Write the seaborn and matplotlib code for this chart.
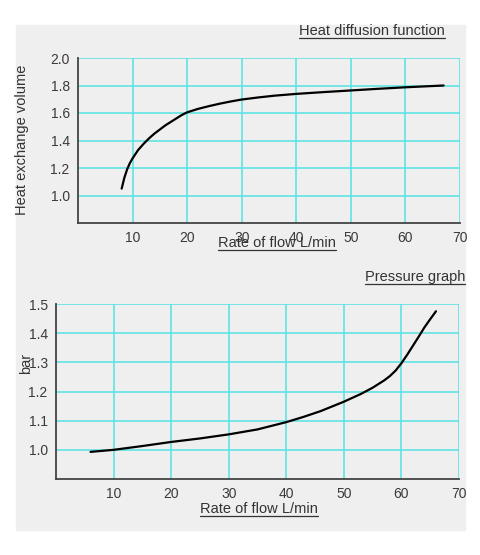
import matplotlib
matplotlib.use("Agg")
import matplotlib.pyplot as plt
import seaborn as sns
from matplotlib.patches import Rectangle
from matplotlib.lines import Line2D

# heat diffusion curve
heat_flow = [8, 8.5, 9, 9.5, 10, 11, 12, 13, 14, 15, 16, 17, 18, 19, 20, 22, 24, 26, 28, 30,
             33, 36, 40, 45, 50, 55, 60, 67]
heat_volume = [1.05, 1.13, 1.19, 1.235, 1.27, 1.33, 1.375, 1.415, 1.45, 1.48, 1.51, 1.535,
               1.56, 1.585, 1.605, 1.63, 1.65, 1.668, 1.684, 1.698, 1.713, 1.726, 1.739,
               1.752, 1.764, 1.776, 1.787, 1.80]

# pressure curve
press_flow = [6, 10, 15, 20, 25, 30, 35, 40, 43, 46, 50, 53, 55, 57, 58, 59, 60, 61, 62, 63, 64, 65, 66]
press_bar = [0.993, 1.0, 1.013, 1.027, 1.039, 1.053, 1.07, 1.095, 1.113, 1.133, 1.165, 1.192,
             1.213, 1.238, 1.253, 1.272, 1.297, 1.326, 1.357, 1.388, 1.42, 1.448, 1.475]

x_ticks = [10, 20, 30, 40, 50, 60, 70]
heat_yticks = [1.0, 1.2, 1.4, 1.6, 1.8, 2.0]
press_yticks = [1.0, 1.1, 1.2, 1.3, 1.4, 1.5]

sns.set_style("white")
plt.rcParams['font.family'] = ['Liberation Sans', 'DejaVu Sans']

grid_c = '#55e3e3'
axis_c = '#444444'
text_c = '#3a3a3a'

fig = plt.figure(figsize=(4.8, 5.55), dpi=100)
fig.patch.set_facecolor('white')
fig.patches.append(Rectangle((16/480, 1-530/555), 449/480, 505/555,
                             transform=fig.transFigure, color='#efefef', zorder=-5))

def setup(ax, yticks, ylim):
    ax.set_facecolor('none')
    ax.set_xlim(0, 70)
    ax.set_ylim(*ylim)
    ax.set_xticks(x_ticks)
    ax.set_yticks(yticks)
    ax.set_yticklabels([f"{v:.1f}" for v in yticks])
    for v in x_ticks:
        ax.axvline(v, color=grid_c, lw=1.1, zorder=1)
    for v in yticks:
        ax.axhline(v, color=grid_c, lw=1.1, zorder=1)
    for s in ['top', 'right']:
        ax.spines[s].set_visible(False)
    for s in ['left', 'bottom']:
        ax.spines[s].set_color(axis_c)
        ax.spines[s].set_linewidth(1.3)
    ax.tick_params(axis='both', direction='out', length=4, width=1.2, color=axis_c,
                   labelcolor=text_c, labelsize=10, pad=2)
    ax.set_xlabel('')
    ax.set_ylabel('')

def underlined(x, y, s, ha, size=10.5):
    return fig.text(x, y, s, ha=ha, va='baseline', fontsize=size, color='#333333')

ax1 = fig.add_axes([78/480, 1-223/555, 382/480, 165/555])
sns.lineplot(x=heat_flow, y=heat_volume, ax=ax1, color='black', lw=1.6, zorder=3)
setup(ax1, heat_yticks, (0.8, 2.0))
fig.text(22/480, 1-140/555, 'Heat exchange volume', rotation=90, ha='center', va='center',
         fontsize=10.5, color='#333333')

ax2 = fig.add_axes([56/480, 1-479/555, 403/480, 175/555])
sns.lineplot(x=press_flow, y=press_bar, ax=ax2, color='black', lw=1.6, zorder=3)
setup(ax2, press_yticks, (0.9, 1.5))
fig.text(26/480, 1-363/555, 'bar', rotation=90, ha='center', va='center',
         fontsize=10.5, color='#333333')

texts = [
    underlined(445/480, 1-35/555, 'Heat diffusion function', 'right'),
    underlined(277/480, 1-247/555, 'Rate of flow L/min', 'center'),
    underlined(465/480, 1-281/555, 'Pressure graph', 'right'),
    underlined(259/480, 1-513/555, 'Rate of flow L/min', 'center'),
]

fig.canvas.draw()
r = fig.canvas.get_renderer()
inv = fig.transFigure.inverted()
for t in texts:
    bb = t.get_window_extent(r)
    (x0, y0), (x1, _) = inv.transform([(bb.x0, bb.y0), (bb.x1, bb.y0)])
    fig.lines.append(Line2D([x0, x1], [y0 + 0.5/555, y0 + 0.5/555], transform=fig.transFigure,
                            color='#333333', lw=0.9))

fig.savefig('out.png', dpi=100)
